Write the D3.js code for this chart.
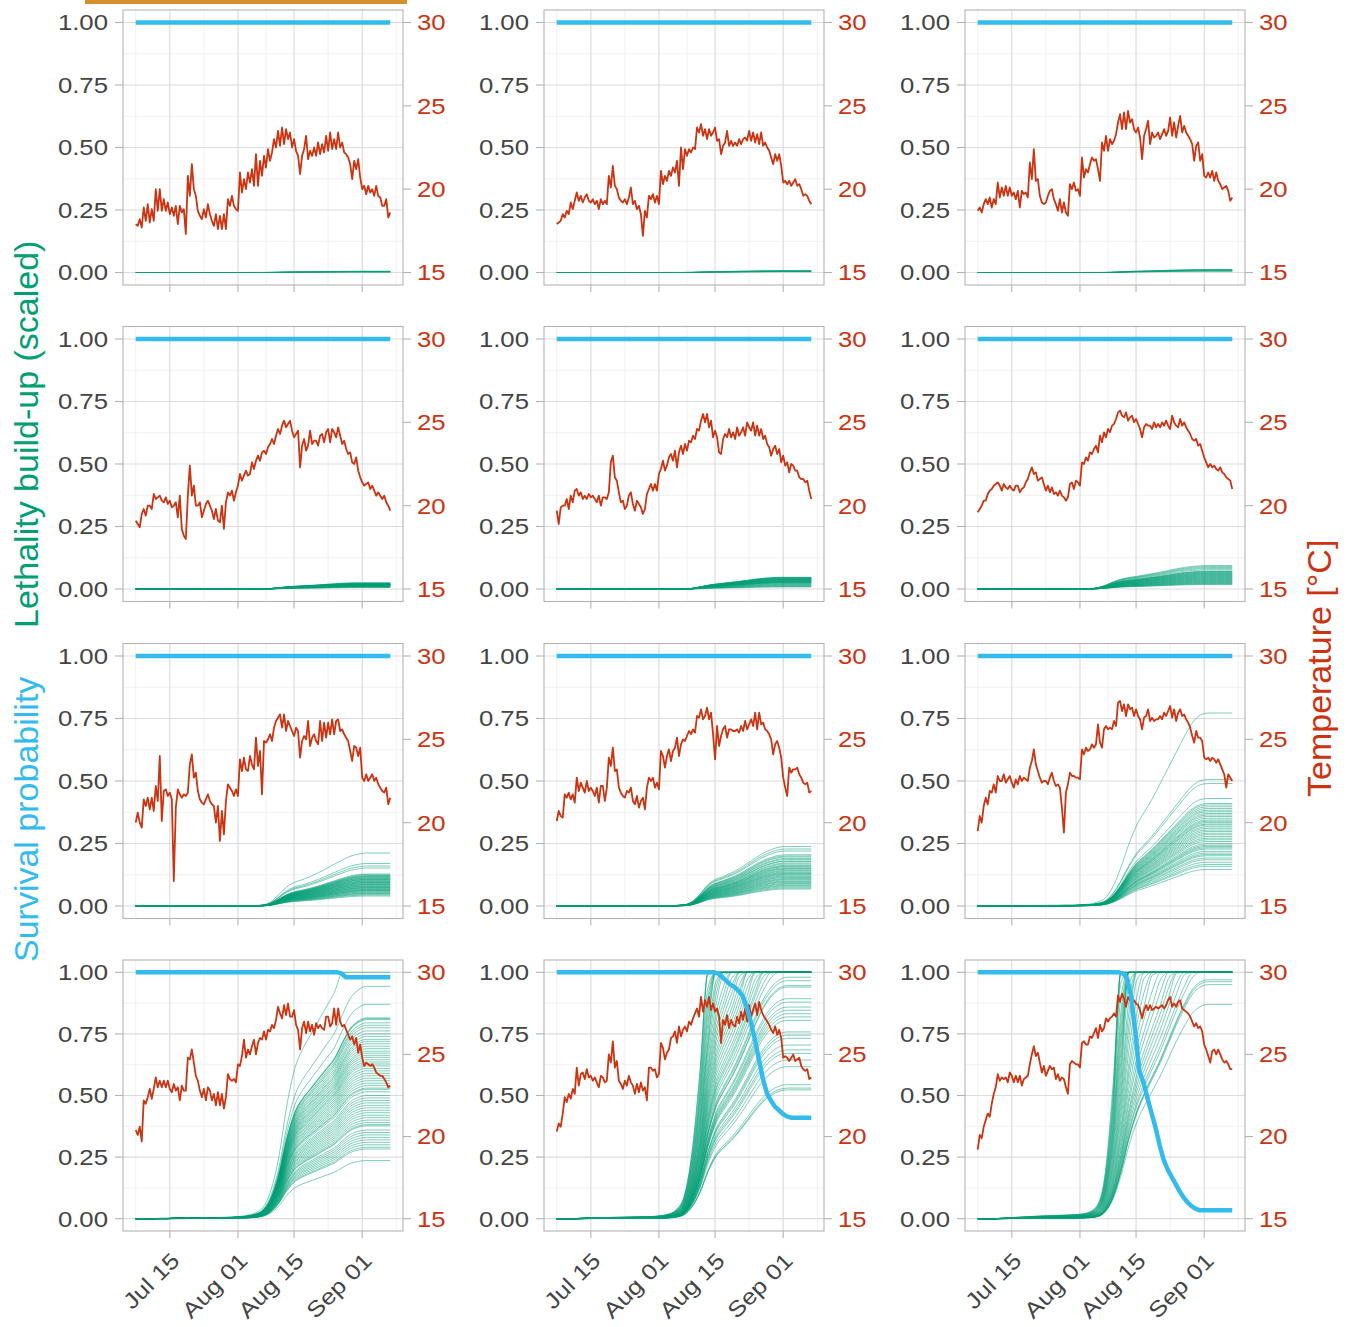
<!DOCTYPE html>
<html>
<head>
<meta charset="utf-8">
<script src="https://cdn.jsdelivr.net/npm/d3@7"></script>
<style>
  body { margin: 0; background: #fff; }
  text { font-family: "Liberation Sans", Arial, Helvetica, sans-serif; }
</style>
</head>
<body>
<svg id="chart" width="1351" height="1327"></svg>
<script>
// ---- data ----
// every series is spread evenly from dataStart to dataEnd
const dataStart = new Date(2021, 6, 6, 12);
const dataEnd = new Date(2021, 8, 8, 0);

const dateTicks = ["2021-07-15", "2021-08-01", "2021-08-15", "2021-09-01"];
const survivalTicks = [0, 0.25, 0.5, 0.75, 1];
const tempTicks = [15, 20, 25, 30];

// temperature [°C], two readings per day, panels left-to-right, top-to-bottom
const tempP1 = [17.9,17.8,18.2,17.7,18.9,18.1,19.1,18.0,18.8,18.1,20.0,18.7,20.0,18.7,19.4,18.7,19.2,18.5,18.9,18.4,19.0,17.9,19.0,18.6,18.8,17.3,20.8,19.6,21.5,20.0,19.6,18.7,18.4,18.2,18.8,18.3,19.1,18.5,18.1,17.8,18.5,17.6,18.4,17.6,18.5,17.6,19.4,19.0,19.6,19.0,18.8,18.7,21.0,19.8,20.6,20.0,21.0,20.4,21.2,20.2,22.1,20.2,21.7,20.8,22.0,21.3,22.4,21.7,22.2,23.0,22.5,23.5,22.6,23.7,22.7,23.6,23.0,23.4,22.5,23.0,22.3,22.0,20.9,22.0,22.4,23.2,21.8,22.3,22.0,22.5,22.0,22.8,22.1,22.7,22.2,23.2,22.3,23.4,22.4,23.0,22.4,23.4,22.5,22.8,22.2,22.1,21.9,21.5,20.6,21.7,21.2,21.8,20.7,20.0,20.2,19.7,20.2,19.8,20.0,19.6,20.2,19.6,19.5,19.0,19.0,19.4,18.3,18.6];
const tempP2 = [17.9,18.0,18.1,18.5,18.3,18.7,18.5,19.2,18.8,19.3,19.8,19.3,19.6,19.2,19.5,19.7,19.3,19.2,19.4,19.1,19.3,18.8,19.4,19.1,19.3,19.1,20.8,20.1,21.4,20.2,20.0,19.5,19.3,19.2,19.4,19.1,19.5,20.1,19.1,19.3,18.8,19.0,18.5,17.2,18.7,18.3,19.6,19.4,19.7,19.2,19.6,19.1,21.1,20.3,20.8,20.5,21.1,20.8,21.3,21.0,21.7,20.2,22.5,21.2,22.4,22.0,22.4,22.2,22.5,22.4,23.7,23.4,23.9,23.2,23.6,23.0,23.6,23.2,23.4,23.7,22.9,23.0,22.1,22.6,22.8,23.5,22.6,22.9,22.6,22.8,22.6,23.0,22.7,23.0,23.1,22.9,23.5,22.9,23.4,22.8,23.3,22.7,23.4,22.6,22.8,22.5,22.3,21.9,21.5,22.1,21.7,22.1,21.4,20.4,20.5,20.3,20.5,20.2,20.4,20.6,20.2,20.3,20.0,19.6,19.7,19.6,19.3,19.1];
const tempP3 = [18.7,18.9,18.6,19.1,19.4,19.1,19.5,18.9,19.4,19.1,20.4,19.5,20.1,19.6,20.2,19.6,20.1,19.6,19.8,19.4,19.9,18.9,19.9,19.7,19.8,19.5,21.6,20.6,22.4,20.5,20.6,19.6,19.2,19.1,19.2,19.6,19.9,20.0,19.4,19.1,18.7,19.4,18.6,19.2,18.6,18.4,20.3,20.0,20.4,19.9,20.0,19.6,21.9,20.7,21.2,21.0,21.5,21.9,21.7,21.8,21.2,20.5,22.8,22.3,23.2,22.3,23.0,22.7,22.9,23.3,24.0,24.5,23.6,24.6,23.6,24.7,24.0,24.2,23.6,23.4,23.7,23.1,21.8,23.2,23.6,24.1,22.7,23.4,23.1,23.2,23.4,23.0,23.3,23.6,23.2,23.5,24.3,23.2,24.0,23.1,23.8,24.4,23.4,23.8,23.4,23.2,23.0,22.7,21.7,22.6,22.8,21.7,22.1,20.8,20.7,21.0,20.7,21.1,20.5,21.0,20.5,20.3,20.0,20.1,20.2,19.9,19.3,19.5];
const tempP4 = [19.1,18.9,18.7,19.5,19.8,19.4,20.0,20.0,19.8,20.7,20.4,20.5,20.6,20.3,20.2,20.5,20.1,20.3,19.9,20.0,20.2,19.3,20.6,18.6,18.2,18.0,20.6,22.4,20.6,21.2,20.0,20.0,20.2,19.3,19.7,20.1,20.3,20.0,19.7,19.2,19.8,19.1,19.0,20.0,18.6,20.2,20.8,20.6,20.9,20.3,20.8,21.2,21.9,21.5,21.8,22.1,21.8,21.9,22.6,22.2,22.7,23.0,22.7,23.2,23.3,23.1,23.5,23.7,24.0,23.7,24.2,24.6,24.3,24.8,25.1,24.7,24.9,25.1,24.5,24.1,24.3,24.5,22.3,23.6,24.0,23.3,23.6,24.5,23.7,23.9,23.9,23.6,24.2,24.3,23.8,24.4,24.6,23.8,24.6,24.4,24.1,24.7,24.2,23.7,23.9,23.4,23.1,23.2,22.6,22.5,22.9,22.1,21.7,21.4,21.2,21.3,21.4,21.0,21.2,20.9,20.6,20.8,20.6,20.4,20.6,20.2,20.0,19.7];
const tempP5 = [19.7,18.9,19.9,20.0,20.0,20.4,19.8,20.6,20.2,20.9,21.0,20.6,20.8,20.4,20.6,20.4,20.7,20.5,20.6,20.4,20.2,20.6,20.0,20.5,20.5,20.4,20.8,22.6,23.0,21.7,21.5,20.8,20.2,20.3,19.8,20.0,20.6,20.8,20.1,19.7,20.3,20.1,19.9,19.5,19.8,20.7,21.0,21.3,20.9,21.3,20.9,21.9,22.2,22.7,22.1,22.4,22.9,23.1,22.7,23.3,22.3,23.2,23.6,23.1,23.7,23.3,23.9,23.8,24.2,24.0,24.6,24.5,25.1,25.5,25.0,25.5,24.7,25.1,24.1,24.5,24.1,23.2,23.1,24.0,24.3,24.1,24.6,24.1,24.4,24.0,24.7,24.2,24.4,24.7,24.2,25.0,24.7,24.5,25.0,24.2,24.8,24.2,24.6,24.0,24.2,23.7,23.5,23.0,23.4,23.6,23.1,23.4,22.6,23.0,22.4,22.6,22.0,22.5,22.4,22.1,22.1,21.7,21.6,21.6,21.4,21.5,20.9,20.4];
const tempP6 = [19.6,19.8,20.0,20.3,20.3,20.7,20.9,21.0,21.2,21.3,21.4,21.2,20.9,21.3,21.1,21.0,21.2,21.0,20.9,21.2,21.2,20.8,21.0,21.1,21.4,21.6,22.0,22.3,21.9,22.0,21.5,21.6,21.7,21.3,20.9,21.2,20.8,21.1,20.7,20.8,20.6,20.9,20.6,20.5,20.3,20.5,21.3,21.4,21.0,21.5,21.4,21.2,22.6,22.5,22.9,22.7,23.2,23.1,23.4,23.6,23.2,24.2,23.8,24.4,24.1,24.6,24.4,24.8,24.9,25.2,25.6,25.7,25.4,25.3,25.6,25.1,25.3,25.4,25.0,25.2,24.9,24.6,24.1,24.7,24.9,24.8,24.8,24.6,25.0,24.7,24.9,24.7,25.0,24.8,25.1,24.8,24.6,25.4,25.0,24.8,24.7,25.2,24.8,25.0,24.7,24.5,24.3,24.0,23.9,24.0,23.6,23.7,23.3,22.9,22.6,22.3,22.5,22.3,22.4,22.2,22.1,22.3,22.0,21.9,21.7,21.6,21.5,21.0];
const tempP7 = [20.0,20.6,20.0,19.7,21.4,21.0,21.5,20.8,21.5,20.7,22.2,21.3,24.0,20.1,21.9,22.0,21.6,21.8,21.4,16.5,20.9,22.0,21.7,21.5,21.7,21.6,21.8,23.5,24.1,22.7,23.0,21.9,21.4,21.2,21.1,21.4,21.7,21.3,21.1,21.0,20.0,21.0,18.9,20.7,19.3,21.3,22.3,22.1,21.9,21.6,22.0,21.6,23.8,23.1,23.9,23.2,23.1,24.0,23.5,23.2,25.1,23.4,24.3,21.7,24.9,24.8,25.0,25.3,24.9,25.7,26.1,26.3,26.5,25.7,26.5,25.5,26.1,25.8,25.5,25.2,25.7,25.5,23.9,24.9,25.2,25.0,26.1,24.6,25.1,25.3,24.9,24.7,26.1,24.9,26.0,25.1,26.0,25.3,26.2,25.3,26.1,26.2,25.5,25.6,25.3,25.1,24.9,24.3,23.7,24.6,24.5,24.0,24.5,22.7,22.5,22.9,22.5,22.7,22.9,22.5,22.7,22.3,22.1,21.9,21.8,22.1,21.1,21.5];
const tempP8 = [20.1,20.7,20.4,20.3,21.7,21.5,21.8,21.4,21.7,21.2,22.7,21.9,22.4,22.1,21.8,22.5,21.9,22.1,21.9,21.6,22.1,21.2,22.2,22.2,21.3,22.1,23.9,23.4,24.5,23.1,23.2,22.1,21.8,21.6,21.5,21.9,21.8,22.1,21.3,21.1,21.6,20.9,21.3,21.5,20.8,22.1,22.7,22.5,22.7,22.1,22.4,22.0,24.3,24.0,23.3,24.0,24.4,23.7,24.3,24.5,25.1,24.0,24.7,25.0,24.9,25.2,25.5,25.3,25.6,25.4,26.4,26.3,26.8,26.2,26.4,26.9,26.2,26.6,25.3,23.8,25.8,24.6,25.2,25.6,25.8,25.1,25.6,25.6,25.5,25.5,25.6,25.4,25.8,25.5,26.1,25.6,25.9,26.2,25.8,26.6,25.6,26.6,25.9,26.0,25.6,25.5,25.3,25.0,24.1,24.7,24.9,24.5,23.9,22.7,22.1,21.6,23.3,23.0,23.2,23.2,23.3,22.9,22.7,22.4,22.3,22.4,21.8,21.9];
const tempP9 = [19.5,20.4,20.0,21.0,21.5,21.1,21.9,21.8,22.3,21.8,22.8,22.5,22.5,22.9,22.4,22.6,22.8,22.4,22.1,22.6,22.3,22.8,22.5,22.7,22.6,22.5,23.3,23.7,24.4,23.5,23.1,22.7,22.4,22.5,22.5,22.3,22.7,23.0,22.5,22.2,22.3,22.1,20.9,19.4,21.8,22.3,23.0,22.8,22.8,22.7,22.7,22.6,24.4,24.1,24.5,24.3,24.4,24.7,24.5,24.7,25.9,24.8,24.5,25.6,25.8,25.6,25.7,25.6,26.1,25.8,27.2,27.3,26.7,27.1,26.4,27.1,26.8,26.9,26.4,26.8,26.4,26.2,25.6,26.3,26.4,26.8,26.1,26.3,26.1,26.2,26.2,26.4,26.2,26.6,26.4,26.7,27.0,26.3,26.8,26.1,26.6,26.8,26.4,26.5,26.2,26.0,25.7,25.2,24.8,25.5,25.1,25.1,24.9,23.9,23.8,23.9,23.7,23.9,23.8,23.6,23.8,23.5,23.2,22.9,22.1,22.9,22.7,22.5];
const tempP10 = [20.4,20.1,20.6,19.7,22.2,22.0,22.4,22.9,22.3,22.9,23.6,23.0,23.4,23.0,23.4,23.0,23.4,22.9,22.7,23.2,22.8,23.0,22.2,23.1,22.8,22.8,24.8,24.7,25.3,24.5,23.7,23.4,22.8,22.4,22.9,22.2,23.0,22.8,22.2,22.6,21.9,22.7,21.9,22.6,21.7,22.4,23.8,23.5,23.4,23.5,23.3,24.4,24.3,24.9,25.9,24.8,25.3,25.0,25.5,25.9,25.0,25.7,26.0,25.9,26.4,25.9,26.5,26.4,26.8,26.6,27.1,27.9,27.5,27.2,28.0,27.4,28.1,27.3,27.3,27.7,26.8,26.5,25.3,26.6,27.0,26.3,27.0,26.4,26.8,26.2,26.9,26.6,26.8,26.6,26.5,27.3,27.3,26.7,26.9,27.8,26.8,27.8,27.0,26.7,26.8,26.5,26.2,25.9,26.1,25.6,26.0,25.1,25.6,24.8,24.3,24.5,24.4,24.3,24.4,24.2,23.9,23.8,23.7,23.7,23.5,23.3,23.0,23.1];
const tempP11 = [20.3,20.8,20.6,21.4,22.4,22.1,22.6,22.3,22.9,22.6,24.2,23.1,23.8,23.9,23.5,24.1,23.6,23.7,23.4,23.6,23.3,23.0,23.7,23.6,23.3,23.4,25.0,24.5,25.8,24.2,24.6,23.4,23.2,22.9,23.4,23.1,23.7,23.3,23.1,22.6,23.2,22.7,23.3,22.8,23.0,22.2,24.2,24.2,24.0,24.1,23.6,23.8,25.7,25.4,24.7,25.1,25.3,26.0,26.1,26.4,25.7,26.7,26.1,26.5,26.7,26.4,27.0,26.8,27.2,27.5,27.8,27.3,28.5,27.6,28.3,27.9,28.5,27.7,28.1,27.6,27.8,27.3,25.7,27.1,26.8,27.4,26.6,27.1,26.8,26.7,27.3,26.9,27.6,27.1,27.8,27.0,28.0,27.3,27.7,28.1,27.4,28.2,27.7,27.4,27.2,27.0,26.8,26.5,26.3,26.7,26.2,26.5,26.0,24.8,24.9,24.8,24.6,24.8,25.0,24.6,24.7,24.8,24.3,24.1,24.0,24.1,23.5,23.6];
const tempP12 = [19.2,20.1,19.9,20.6,21.0,21.4,21.2,22.0,22.6,23.0,23.8,23.4,23.6,23.5,23.6,23.3,23.9,23.7,23.3,23.7,23.3,23.7,23.1,23.5,23.6,23.7,24.4,25.0,25.5,24.9,25.1,24.5,23.9,24.3,23.7,24.0,24.3,24.1,24.2,23.5,23.8,23.4,23.6,23.5,23.0,22.6,24.4,24.6,24.5,24.4,24.4,24.2,25.7,25.8,25.6,25.6,26.1,26.0,26.3,26.6,26.0,26.8,26.4,26.6,27.2,27.0,27.2,27.3,27.5,27.3,28.6,28.2,28.7,28.4,27.9,28.5,28.3,28.2,28.3,28.1,28.0,27.7,27.2,27.7,28.0,27.7,28.0,27.7,27.8,27.9,27.8,27.9,28.0,27.8,28.0,28.3,28.5,27.9,28.1,27.9,28.2,28.3,27.8,27.7,27.6,27.5,27.3,27.0,26.7,26.9,26.6,26.7,26.4,25.6,25.3,24.9,24.5,25.2,25.3,25.0,25.3,25.0,24.7,24.5,24.6,24.4,24.1,24.1];

// lethality build-up: shape of the cumulative curve (fraction of final value, every ~2 days)
const lethalShapeP1 = [0,0,0,0,0,0,0,0,0,0,0,0,0,0,0.002,0.005,0.01,0.06,0.2,0.34,0.44,0.52,0.6,0.68,0.76,0.84,0.91,0.96,0.99,1,1,1,1];
const lethalShapeP2 = [0,0,0,0,0,0,0,0,0,0,0,0,0,0,0.002,0.005,0.01,0.06,0.2,0.34,0.44,0.52,0.6,0.68,0.76,0.84,0.91,0.96,0.99,1,1,1,1];
const lethalShapeP3 = [0,0,0,0,0,0,0,0,0,0,0,0,0,0,0.002,0.005,0.012,0.07,0.22,0.36,0.45,0.52,0.6,0.68,0.76,0.84,0.91,0.96,0.99,1,1,1,1];
const lethalShapeP4 = [0,0,0,0,0,0,0,0,0,0,0,0,0,0,0.002,0.005,0.01,0.08,0.22,0.36,0.45,0.52,0.59,0.67,0.76,0.85,0.93,0.98,1,1,1,1,1];
const lethalShapeP5 = [0,0,0,0,0,0,0,0,0,0,0,0,0,0,0,0.004,0.01,0.05,0.18,0.32,0.42,0.5,0.58,0.66,0.75,0.84,0.92,0.97,1,1,1,1,1];
const lethalShapeP6 = [0,0,0,0,0,0,0,0,0,0,0,0,0.002,0.005,0.01,0.05,0.15,0.3,0.42,0.49,0.54,0.6,0.66,0.72,0.79,0.86,0.92,0.96,0.99,1,1,1,1];
const lethalShapeP7 = [0,0,0,0,0,0,0,0,0,0,0.001,0.001,0.002,0.003,0.005,0.01,0.02,0.08,0.22,0.36,0.45,0.5,0.56,0.63,0.71,0.79,0.87,0.94,0.98,1,1,1,1];
const lethalShapeP8 = [0,0,0,0,0,0,0,0,0,0,0.001,0.001,0.002,0.003,0.006,0.01,0.02,0.07,0.2,0.36,0.45,0.5,0.56,0.63,0.72,0.81,0.89,0.95,0.99,1,1,1,1];
const lethalShapeP9 = [0,0,0,0.001,0.001,0.002,0.002,0.003,0.003,0.004,0.004,0.005,0.005,0.007,0.01,0.02,0.04,0.1,0.2,0.32,0.42,0.49,0.56,0.64,0.72,0.8,0.88,0.95,0.99,1,1,1,1];
const lethalShapeP10 = [0,0,0,0.001,0.001,0.002,0.002,0.003,0.003,0.004,0.004,0.005,0.006,0.008,0.012,0.02,0.04,0.1,0.22,0.4,0.53,0.6,0.65,0.7,0.75,0.8,0.88,0.95,0.985,1,1,1,1];
const lethalShapeP11 = [0,0,0,0.0005,0.001,0.0012,0.0015,0.0018,0.002,0.0022,0.0025,0.0028,0.003,0.004,0.006,0.012,0.03,0.09,0.2,0.36,0.48,0.55,0.61,0.68,0.76,0.84,0.91,0.96,0.99,1,1,1,1];
const lethalShapeP12 = [0,0,0,0.0003,0.0006,0.001,0.0013,0.0016,0.0019,0.0021,0.0023,0.0025,0.0028,0.0032,0.0045,0.009,0.03,0.09,0.2,0.34,0.45,0.53,0.6,0.67,0.75,0.83,0.9,0.96,0.99,1,1,1,1];

// final (end of season) lethality of each ensemble member; above 1 means lethal, drawn capped at 1
const lethalFinalP1 = [0.002,0.0025,0.003,0.003,0.0035,0.004,0.0045,0.005];
const lethalFinalP2 = [0.003,0.004,0.004,0.005,0.005,0.006,0.007,0.008];
const lethalFinalP3 = [0.005,0.006,0.007,0.008,0.009,0.01,0.011,0.012];
const lethalFinalP4 = [0.025,0.024,0.023,0.022,0.022,0.021,0.02,0.02,0.019,0.019,0.018,0.018,0.017,0.017,0.016,0.016,0.015,0.015,0.014,0.014,0.013,0.013,0.012,0.012,0.011,0.01,0.009,0.008,0.007,0.006];
const lethalFinalP5 = [0.047,0.046,0.045,0.044,0.043,0.042,0.041,0.04,0.039,0.038,0.037,0.036,0.035,0.034,0.033,0.032,0.031,0.03,0.029,0.028,0.027,0.026,0.025,0.024,0.022,0.02,0.018,0.016,0.014,0.012,0.01,0.008];
const lethalFinalP6 = [0.094,0.09,0.086,0.082,0.077,0.072,0.07,0.068,0.066,0.064,0.062,0.06,0.058,0.056,0.054,0.052,0.05,0.048,0.046,0.044,0.042,0.04,0.038,0.036,0.034,0.032,0.03,0.028,0.026,0.024,0.022,0.02,0.018];
const lethalFinalP7 = [0.212,0.17,0.16,0.152,0.128,0.125,0.122,0.12,0.118,0.116,0.113,0.112,0.11,0.107,0.106,0.104,0.101,0.1,0.098,0.095,0.094,0.092,0.09,0.087,0.086,0.084,0.081,0.08,0.078,0.075,0.074,0.072,0.07,0.067,0.066,0.063,0.062,0.06,0.057,0.055,0.052,0.05,0.047,0.044,0.04];
const lethalFinalP8 = [0.238,0.228,0.22,0.205,0.2,0.196,0.19,0.186,0.18,0.178,0.172,0.168,0.163,0.16,0.157,0.153,0.15,0.147,0.143,0.14,0.136,0.133,0.13,0.127,0.124,0.12,0.117,0.114,0.11,0.107,0.104,0.1,0.097,0.094,0.09,0.087,0.083,0.08,0.076,0.072,0.068];
const lethalFinalP9 = [0.772,0.506,0.49,0.43,0.41,0.404,0.397,0.39,0.383,0.377,0.37,0.364,0.358,0.351,0.344,0.339,0.334,0.328,0.324,0.317,0.311,0.304,0.298,0.291,0.285,0.278,0.271,0.265,0.258,0.249,0.243,0.238,0.233,0.228,0.219,0.212,0.206,0.201,0.192,0.185,0.175,0.166,0.159,0.146];
const lethalFinalP10 = [1.15,0.943,0.87,0.815,0.812,0.808,0.795,0.785,0.775,0.762,0.75,0.74,0.728,0.72,0.71,0.7,0.69,0.68,0.672,0.663,0.655,0.645,0.636,0.628,0.62,0.61,0.6,0.59,0.58,0.57,0.56,0.55,0.54,0.53,0.525,0.515,0.5,0.49,0.48,0.47,0.46,0.45,0.44,0.43,0.42,0.41,0.4,0.39,0.382,0.377,0.36,0.35,0.34,0.33,0.32,0.31,0.3,0.29,0.283,0.236];
const lethalFinalP11 = [0.98,0.966,0.946,0.94,0.893,0.879,0.859,0.846,0.832,0.819,0.805,0.758,0.745,0.732,0.705,0.685,0.671,0.644,0.617,0.544,0.53,0.523,1.02,1.05,1.08,1.1,1.13,1.16,1.2,1.24,1.28,1.32,1.36,1.4,1.45,1.5,1.55,1.6,1.66,1.72,1.8,1.88,1.95,2.0,2.1,2.2,2.3,2.4,2.5,2.6,2.75,2.9,3.0];
const lethalFinalP12 = [0.97,0.962,0.95,0.87,1.02,1.05,1.1,1.15,1.2,1.25,1.3,1.38,1.45,1.55,1.65,1.75,1.85,2.0,2.15,2.3,2.45,2.6,2.8,3.0,3.2,3.4,3.6,3.8,4.0,4.2,4.5,4.8,5.0,5.3,5.6,6.0];

// survival probability (daily where it changes)
const survivalP1 = [1, 1];
const survivalP2 = [1, 1];
const survivalP3 = [1, 1];
const survivalP4 = [1, 1];
const survivalP5 = [1, 1];
const survivalP6 = [1, 1];
const survivalP7 = [1, 1];
const survivalP8 = [1, 1];
const survivalP9 = [1, 1];
const survivalP10 = [1,1,1,1,1,1,1,1,1,1,1,1,1,1,1,1,1,1,1,1,1,1,1,1,1,1,1,1,1,1,1,1,1,1,1,1,1,1,1,1,1,1,1,1,1,1,1,1,1,1,1,0.995,0.98,0.98,0.98,0.98,0.98,0.98,0.98,0.98,0.98,0.98,0.98,0.98];
const survivalP11 = [1,1,1,1,1,1,1,1,1,1,1,1,1,1,1,1,1,1,1,1,1,1,1,1,1,1,1,1,1,1,1,1,1,1,1,1,1,1,1,1,0.995,0.98,0.965,0.95,0.94,0.925,0.905,0.86,0.8,0.73,0.65,0.57,0.51,0.48,0.455,0.44,0.425,0.415,0.41,0.41,0.41,0.41,0.41,0.41];
const survivalP12 = [1,1,1,1,1,1,1,1,1,1,1,1,1,1,1,1,1,1,1,1,1,1,1,1,1,1,1,1,1,1,1,1,1,1,1,1,0.995,0.975,0.9,0.76,0.6,0.555,0.49,0.43,0.37,0.3,0.24,0.2,0.17,0.14,0.11,0.085,0.065,0.05,0.04,0.034,0.034,0.034,0.034,0.034,0.034,0.034,0.034,0.034];

const tempSeries = [tempP1, tempP2, tempP3, tempP4, tempP5, tempP6, tempP7, tempP8, tempP9, tempP10, tempP11, tempP12];
const lethalShapes = [lethalShapeP1, lethalShapeP2, lethalShapeP3, lethalShapeP4, lethalShapeP5, lethalShapeP6, lethalShapeP7, lethalShapeP8, lethalShapeP9, lethalShapeP10, lethalShapeP11, lethalShapeP12];
const lethalFinals = [lethalFinalP1, lethalFinalP2, lethalFinalP3, lethalFinalP4, lethalFinalP5, lethalFinalP6, lethalFinalP7, lethalFinalP8, lethalFinalP9, lethalFinalP10, lethalFinalP11, lethalFinalP12];
const survivalSeries = [survivalP1, survivalP2, survivalP3, survivalP4, survivalP5, survivalP6, survivalP7, survivalP8, survivalP9, survivalP10, survivalP11, survivalP12];

// ---- layout and style ----
const width = 1351, height = 1327;
const panelLeft = [123, 544, 965];
const panelWidth = 280;
const panelTop = [10, 326.5, 643.5, 960];
const panelHeight = [275, 275, 275, 271];

const blue = "#33BBEE", green = "#009E73", red = "#CC3311";
const labelGray = "#444444", frameGray = "#B3B3B3";
const tickFont = 22, tickStretch = 1.17;

const svg = d3.select("#chart");
svg.append("rect").attr("width", width).attr("height", height).attr("fill", "#fff");
// strip of the element above (cut off in the picture)
svg.append("rect").attr("x", 85).attr("y", 0).attr("width", 322).attr("height", 4).attr("fill", "#D38F2B");

const span = dataEnd - dataStart;
const xDomain = [new Date(+dataStart - span * 0.05), new Date(+dataEnd + span * 0.05)];
const parseDay = d3.timeParse("%Y-%m-%d");
const majorDates = dateTicks.map(parseDay);
// minor breaks half-way between major ones (and one step beyond each end)
const minorDates = [];
for (let i = 0; i <= majorDates.length; i++) {
    const a = i === 0 ? +majorDates[0] - (majorDates[1] - majorDates[0]) : +majorDates[i - 1];
    const b = i === majorDates.length ? +majorDates[i - 1] + (majorDates[i - 1] - majorDates[i - 2]) : +majorDates[i];
    minorDates.push(new Date((a + b) / 2));
}
const minorY = [0.125, 0.375, 0.625, 0.875];

// spread an array evenly over the season
const overSeason = arr => arr.map((v, i) => ({ t: new Date(+dataStart + span * i / (arr.length - 1)), v }));

tempSeries.forEach((temps, idx) => {
    const row = Math.floor(idx / 3), col = idx % 3;
    const left = panelLeft[col], top = panelTop[row], h = panelHeight[row];
    const bottom = top + h, right = left + panelWidth;

    const x = d3.scaleTime().domain(xDomain).range([left, right]);
    const y = d3.scaleLinear().domain([-0.05, 1.05]).range([bottom, top]);
    const yTemp = d3.scaleLinear().domain([15 - 0.75, 30 + 0.75]).range([bottom, top]);

    const g = svg.append("g").attr("class", "panel");

    // grid
    g.append("g").selectAll("line").data(minorDates).join("line")
        .attr("x1", d => x(d)).attr("x2", d => x(d)).attr("y1", top).attr("y2", bottom)
        .attr("stroke", "#EDEDED").attr("stroke-width", 0.8);
    g.append("g").selectAll("line").data(minorY).join("line")
        .attr("x1", left).attr("x2", right).attr("y1", d => y(d)).attr("y2", d => y(d))
        .attr("stroke", "#EDEDED").attr("stroke-width", 0.8);
    g.append("g").selectAll("line").data(majorDates).join("line")
        .attr("x1", d => x(d)).attr("x2", d => x(d)).attr("y1", top).attr("y2", bottom)
        .attr("stroke", "#DCDCDC").attr("stroke-width", 1.2);
    g.append("g").selectAll("line").data(survivalTicks).join("line")
        .attr("x1", left).attr("x2", right).attr("y1", d => y(d)).attr("y2", d => y(d))
        .attr("stroke", "#DCDCDC").attr("stroke-width", 1.2);

    // lethality ensemble
    const shape = overSeason(lethalShapes[idx]);
    const lethalLine = d3.line().x(d => x(d.t)).y(d => y(d.v)).curve(d3.curveMonotoneX);
    g.append("g").selectAll("path").data(lethalFinals[idx]).join("path")
        .attr("d", f => lethalLine(shape.map(s => ({ t: s.t, v: Math.min(1, f * s.v) }))))
        .attr("fill", "none").attr("stroke", green).attr("stroke-width", 1)
        .attr("stroke-opacity", 0.5);

    // temperature
    const tempLine = d3.line().x(d => x(d.t)).y(d => yTemp(d.v));
    g.append("path").datum(overSeason(temps)).attr("d", tempLine)
        .attr("fill", "none").attr("stroke", red).attr("stroke-width", 1.8)
        .attr("stroke-linejoin", "round");

    // survival
    const survLine = d3.line().x(d => x(d.t)).y(d => y(d.v));
    g.append("path").datum(overSeason(survivalSeries[idx])).attr("d", survLine)
        .attr("fill", "none").attr("stroke", blue).attr("stroke-width", 4.5)
        .attr("stroke-linejoin", "round");

    // frame
    g.append("rect").attr("x", left).attr("y", top).attr("width", panelWidth).attr("height", h)
        .attr("fill", "none").attr("stroke", frameGray).attr("stroke-width", 1.1);

    // left axis
    g.append("g").selectAll("line").data(survivalTicks).join("line")
        .attr("x1", left - 8).attr("x2", left).attr("y1", d => y(d)).attr("y2", d => y(d))
        .attr("stroke", frameGray).attr("stroke-width", 1.1);
    g.append("g").selectAll("text").data(survivalTicks).join("text")
        .attr("transform", d => `translate(${left - 15},${y(d)}) scale(${tickStretch},1)`)
        .attr("dy", "0.36em").attr("text-anchor", "end")
        .attr("font-size", tickFont).attr("fill", labelGray)
        .text(d3.format(".2f"));

    // right axis (temperature)
    g.append("g").selectAll("line").data(tempTicks).join("line")
        .attr("x1", right).attr("x2", right + 8).attr("y1", d => yTemp(d)).attr("y2", d => yTemp(d))
        .attr("stroke", frameGray).attr("stroke-width", 1.1);
    g.append("g").selectAll("text").data(tempTicks).join("text")
        .attr("transform", d => `translate(${right + 14},${yTemp(d)}) scale(${tickStretch},1)`)
        .attr("dy", "0.36em").attr("text-anchor", "start")
        .attr("font-size", tickFont).attr("fill", red)
        .text(d => d);

    // bottom axis
    g.append("g").selectAll("line").data(majorDates).join("line")
        .attr("x1", d => x(d)).attr("x2", d => x(d)).attr("y1", bottom).attr("y2", bottom + 7)
        .attr("stroke", frameGray).attr("stroke-width", 1.1);
    if (row === 3) {
        g.append("g").selectAll("text").data(majorDates).join("text")
            .attr("transform", d => `translate(${x(d) + 11},${bottom + 31}) rotate(-45) scale(${tickStretch},1)`)
            .attr("text-anchor", "end")
            .attr("font-size", tickFont).attr("fill", labelGray)
            .text(d3.timeFormat("%b %d"));
    }
});

// axis titles
svg.append("text").attr("transform", "translate(38,962) rotate(-90)")
    .attr("font-size", 34).attr("fill", blue).text("Survival probability");
svg.append("text").attr("transform", "translate(38,628) rotate(-90)")
    .attr("font-size", 34).attr("fill", green).text("Lethality build-up (scaled)");
svg.append("text").attr("transform", "translate(1331,797) rotate(-90)")
    .attr("font-size", 34).attr("fill", red).text("Temperature [°C]");
</script>
</body>
</html>
